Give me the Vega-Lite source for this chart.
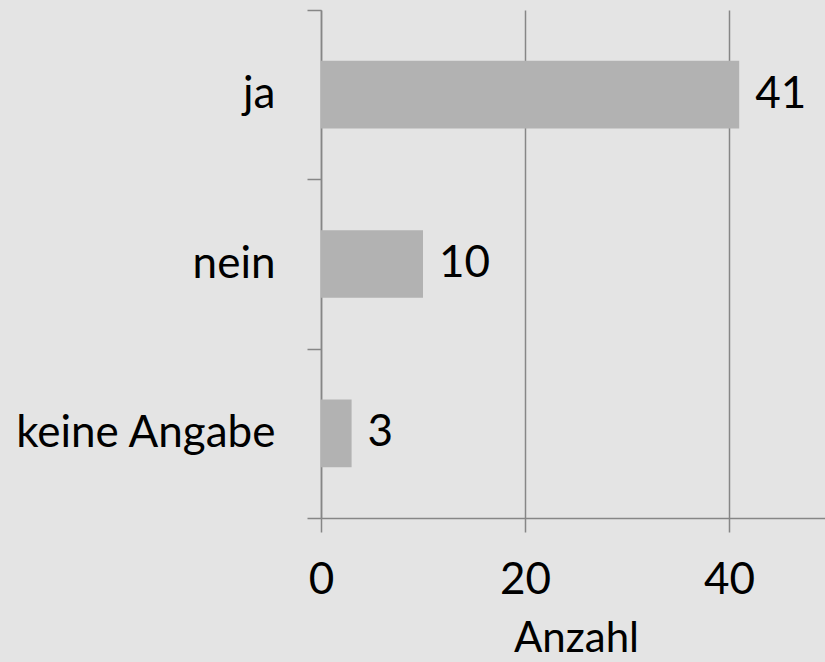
{
  "$schema": "https://vega.github.io/schema/vega-lite/v6.json",
  "width": 510,
  "height": 508,
  "autosize": {"type": "none"},
  "padding": {"left": 321, "top": 10, "right": 0, "bottom": 144},
  "background": "#e4e4e4",
  "config": {
    "view": {"stroke": null},
    "font": "Lato",
    "axis": {"domainColor": "#868686", "tickColor": "#868686", "gridColor": "#868686", "domainWidth": 1.5, "tickWidth": 1.5, "gridWidth": 1.5, "labelColor": "#000000", "titleColor": "#000000", "labelFont": "Lato", "titleFont": "Lato"}
  },
  "data": {"values": [
    {"Kategorie": "ja", "Anzahl": 41},
    {"Kategorie": "nein", "Anzahl": 10},
    {"Kategorie": "keine Angabe", "Anzahl": 3}
  ]},
  "encoding": {
    "y": {"field": "Kategorie", "type": "nominal", "sort": ["ja", "nein", "keine Angabe"],
      "scale": {"paddingInner": 0, "paddingOuter": 0},
      "axis": {"title": null, "tickBand": "extent", "tickSize": 14, "labelPadding": 32, "labelFontSize": 44, "grid": false, "labelLimit": 400}},
    "x": {"field": "Anzahl", "type": "quantitative", "scale": {"domain": [0, 50], "nice": false},
      "axis": {"values": [0, 20, 40], "grid": true, "tickSize": 14, "labelPadding": 26, "labelFlush": false, "labelFontSize": 44, "title": "Anzahl", "titleFontSize": 42, "titleFontWeight": "normal", "titlePadding": 16}}
  },
  "layer": [
    {"mark": {"type": "bar", "color": "#b2b2b2", "height": {"band": 0.4}}},
    {"mark": {"type": "text", "align": "left", "dx": 16, "fontSize": 44, "color": "#000000", "font": "Lato"},
      "encoding": {"text": {"field": "Anzahl", "type": "quantitative"}}}
  ]
}
